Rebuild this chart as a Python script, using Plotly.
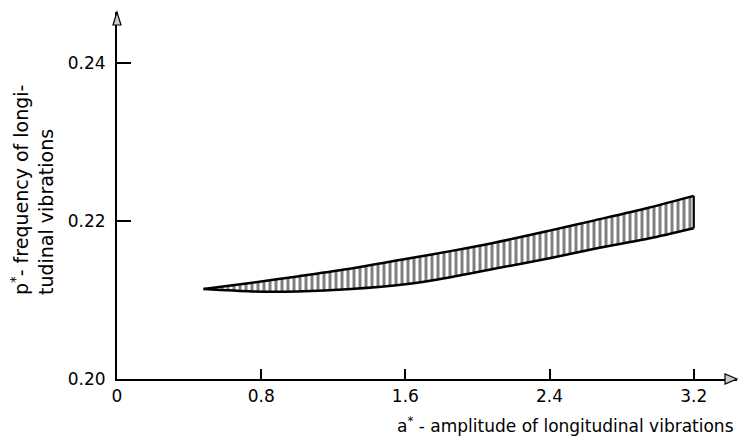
import plotly.graph_objects as go

# Data
a_vals = [0.48, 0.75, 1.0, 1.3, 1.6, 1.85, 2.1, 2.4, 2.65, 2.95, 3.2]
p_upper = [0.2114, 0.2122, 0.2130, 0.2140, 0.2152, 0.2162, 0.2173, 0.2188, 0.2201, 0.2217, 0.2232]
p_lower = [0.2114, 0.2111, 0.2111, 0.2114, 0.2120, 0.2129, 0.2140, 0.2153, 0.2165, 0.2178, 0.2191]

x_ticks = [0, 0.8, 1.6, 2.4, 3.2]
x_tick_labels = ["0", "0.8", "1.6", "2.4", "3.2"]
y_ticks = [0.20, 0.22, 0.24]
y_tick_labels = ["0.20", "0.22", "0.24"]

X_MAX = 3.44
Y_MIN, Y_MAX = 0.20, 0.2465

FONT = "DejaVu Sans"

fig = go.Figure()
fig.add_trace(go.Scatter(
    x=a_vals, y=p_lower, mode="lines",
    line=dict(color="black", width=2.5, shape="spline", smoothing=0.8),
    showlegend=False, hoverinfo="skip"))
fig.add_trace(go.Scatter(
    x=a_vals, y=p_upper, mode="lines",
    line=dict(color="black", width=2.5, shape="spline", smoothing=0.8),
    fill="tonexty", fillcolor="white",
    fillpattern=dict(shape="|", size=6, solidity=0.5, fgcolor="black", bgcolor="white"),
    showlegend=False, hoverinfo="skip"))
# closing stroke at right end
fig.add_trace(go.Scatter(
    x=[a_vals[-1], a_vals[-1]], y=[p_lower[-1], p_upper[-1]], mode="lines",
    line=dict(color="black", width=2.2), showlegend=False, hoverinfo="skip"))

fig.update_xaxes(
    range=[0, X_MAX], showgrid=False, zeroline=False,
    showline=True, linecolor="black", linewidth=2,
    tickmode="array", tickvals=x_ticks, ticktext=x_tick_labels,
    ticks="inside", ticklen=10, tickwidth=1.5, tickcolor="black",
    tickfont=dict(family=FONT, size=17, color="black"),
    ticklabelstandoff=1)
fig.update_yaxes(
    range=[Y_MIN, Y_MAX], showgrid=False, zeroline=False,
    showline=True, linecolor="black", linewidth=2,
    tickmode="array", tickvals=y_ticks, ticktext=y_tick_labels,
    ticks="inside", ticklen=14, tickwidth=1.5, tickcolor="black",
    tickfont=dict(family=FONT, size=17, color="black"),
    ticklabelstandoff=6)

# arrowheads (paper-referenced so they are not clipped)
fig.add_shape(type="path", xref="paper", yref="paper", xsizemode="pixel", ysizemode="pixel",
              xanchor=1, yanchor=0, path="M 0,0 L -12,5 L -12,-5 Z",
              line=dict(color="black", width=1.2), fillcolor="#cccccc", layer="above")
fig.add_shape(type="path", xref="paper", yref="paper", xsizemode="pixel", ysizemode="pixel",
              xanchor=0, yanchor=1, path="M 0,0 L -4,-13 L 4,-13 Z",
              line=dict(color="black", width=1.2), fillcolor="#cccccc", layer="above")

# axis titles
fig.add_annotation(text="a<sup>*</sup> - amplitude of longitudinal vibrations",
                   xref="paper", yref="paper", x=(736 - 117) / 620, y=-(425 - 379) / 367,
                   xanchor="right", yanchor="middle", showarrow=False,
                   font=dict(family=FONT, size=17, color="black"))
fig.add_annotation(text="p<sup>*</sup>- frequency of longi-<br>tudinal vibrations",
                   xref="paper", yref="paper", x=-(117 - 32) / 620, y=(379 - 297) / 367,
                   xanchor="center", yanchor="bottom", textangle=-90, align="left",
                   showarrow=False, font=dict(family=FONT, size=19, color="black"))

fig.update_layout(
    width=740, height=440,
    margin=dict(l=117, r=3, t=12, b=61),
    plot_bgcolor="white", paper_bgcolor="white",
)
fig.write_html("out.html")
